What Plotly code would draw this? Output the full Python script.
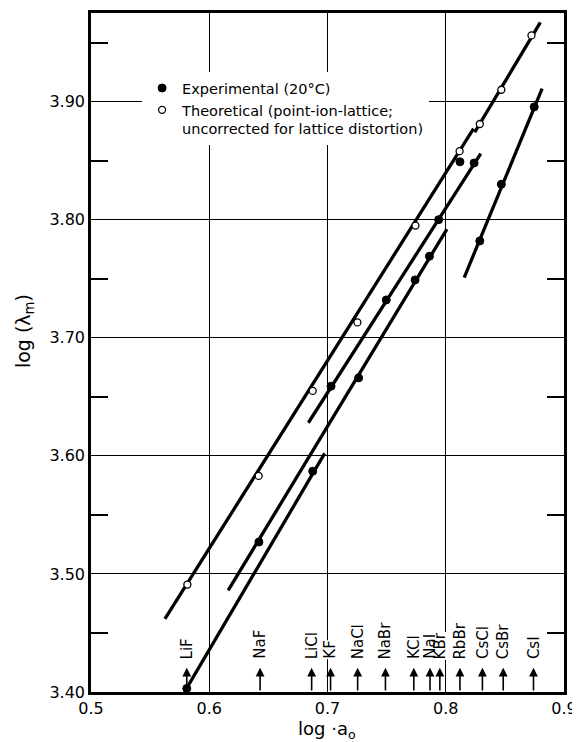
import plotly.graph_objects as go

# ---- data ----
salt_names = ["LiF", "NaF", "LiCl", "KF", "NaCl", "NaBr", "KCl", "NaI", "KBr", "RbBr", "CsCl", "CsBr", "CsI"]
salt_log_a0 = [0.581, 0.643, 0.6866, 0.7026, 0.7255, 0.749, 0.773, 0.7867, 0.795, 0.812, 0.831, 0.8486, 0.8742]

exp_x = [0.581, 0.642, 0.6875, 0.703, 0.7263, 0.7497, 0.7741, 0.7862, 0.794, 0.812, 0.824, 0.8288, 0.847, 0.8748]
exp_y = [3.403, 3.527, 3.587, 3.659, 3.666, 3.732, 3.749, 3.769, 3.800, 3.849, 3.848, 3.782, 3.830, 3.8955]

theo_x = [0.5815, 0.6418, 0.6875, 0.7253, 0.7744, 0.8117, 0.8288, 0.847, 0.8725]
theo_y = [3.491, 3.583, 3.655, 3.713, 3.795, 3.858, 3.881, 3.910, 3.956]

# fitted straight lines drawn in the figure: (x start, x end), (y start, y end)
fit_x0 = [0.5625, 0.8245, 0.579, 0.616, 0.6838, 0.8156]
fit_x1 = [0.8235, 0.880, 0.6976, 0.801, 0.8296, 0.8815]
fit_y0 = [3.462, 3.874, 3.400, 3.486, 3.628, 3.751]
fit_y1 = [3.877, 3.967, 3.602, 3.792, 3.856, 3.911]

x_ticks = [0.5, 0.6, 0.7, 0.8, 0.9]

FONT = "DejaVu Sans"

fig = go.Figure()

for x0, x1, y0, y1 in zip(fit_x0, fit_x1, fit_y0, fit_y1):
    fig.add_trace(go.Scatter(x=[x0, x1], y=[y0, y1], mode="lines",
                             line=dict(color="black", width=3.3), showlegend=False,
                             hoverinfo="skip"))

fig.add_trace(go.Scatter(x=exp_x, y=exp_y, mode="markers", name="Experimental (20\u00b0C)",
                         marker=dict(symbol="circle", size=8, color="black",
                                     line=dict(color="black", width=1))))
fig.add_trace(go.Scatter(x=theo_x, y=theo_y, mode="markers",
                         name="Theoretical (point-ion-lattice;<br>uncorrected for lattice distortion)",
                         marker=dict(symbol="circle", size=7, color="white",
                                     line=dict(color="black", width=1.3))))

annotations = []
# labels crossing grid lines get a white background and are drawn first
order = sorted(range(len(salt_names)), key=lambda i: 0 if salt_names[i] in ("KF", "KBr") else 1)
for i in order:
    name, xv = salt_names[i], salt_log_a0[i]
    annotations.append(dict(x=xv, y=3.427, xref="x", yref="y", text=name, textangle=-90,
                            showarrow=False, yanchor="bottom", xanchor="center",
                            font=dict(family=FONT, size=15, color="black"),
                            bgcolor="white" if name in ("KF", "KBr") else None, borderpad=0))
for xv in salt_log_a0:
    annotations.append(dict(x=xv, y=3.4205, xref="x", yref="y", ax=xv, ay=3.400,
                            axref="x", ayref="y", text="", showarrow=True,
                            arrowhead=2, arrowsize=1.1, arrowwidth=1.6, arrowcolor="black"))

annotations.append(dict(x=-0.141, y=0.532, xref="paper", yref="paper",
                        text="log (\u03bb<sub>m</sub>)", textangle=-90, showarrow=False,
                        xanchor="center", yanchor="middle",
                        font=dict(family=FONT, size=19, color="black")))
annotations.append(dict(x=0.498, y=-0.056, xref="paper", yref="paper",
                        text="log \u00b7a<sub>o</sub>", showarrow=False, yanchor="middle",
                        font=dict(family=FONT, size=18, color="black")))

# the page body has an 8px margin, so the figure is shrunk by 8px and margins shifted
fig.update_layout(
    width=572, height=734,
    margin=dict(l=83, r=16, t=2, b=50),
    paper_bgcolor="white", plot_bgcolor="white",
    font=dict(family=FONT, size=16, color="black"),
    showlegend=True,
    legend=dict(x=0.108, y=0.913, xanchor="left", yanchor="top",
                bgcolor="white", borderwidth=0, valign="top",
                font=dict(family=FONT, size=14.5, color="black"),
                itemwidth=30, tracegroupgap=0),
    annotations=annotations,
)

fig.update_xaxes(range=[0.5, 0.9], tickvals=x_ticks, ticktext=[f"{v:.1f}" for v in x_ticks],
                 showgrid=True, gridcolor="black", gridwidth=1,
                 showline=True, linecolor="black", linewidth=2.5, mirror=True,
                 ticks="", zeroline=False, tickfont=dict(size=16))
fig.update_yaxes(range=[3.40, 3.975], tickmode="linear", tick0=3.4, dtick=0.1, tickformat=".2f",
                 showgrid=True, gridcolor="black", gridwidth=1,
                 showline=True, linecolor="black", linewidth=2.5, mirror="ticks",
                 ticks="inside", ticklen=0,
                 minor=dict(dtick=0.05, ticks="inside", ticklen=17, tickwidth=1.5,
                            tickcolor="black", showgrid=False),
                 zeroline=False, tickfont=dict(size=16))

fig.write_html("out.html")
